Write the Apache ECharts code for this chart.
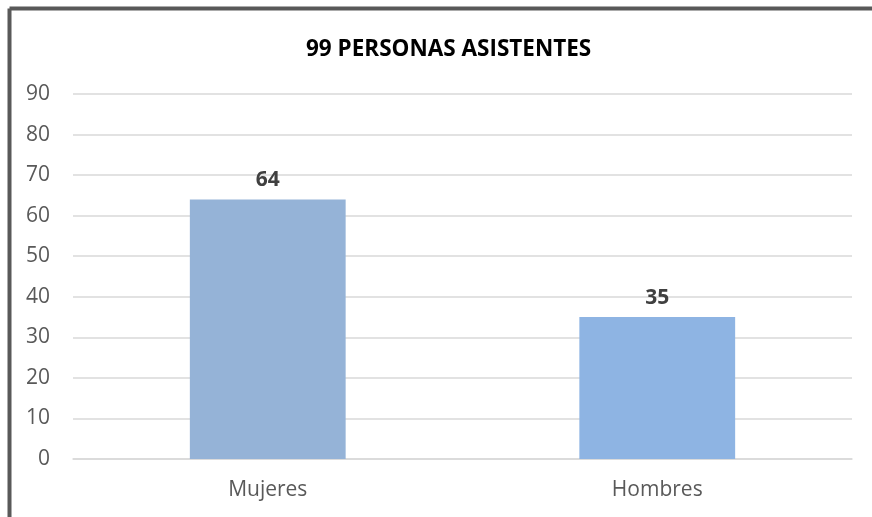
<!DOCTYPE html>
<html>
<head>
<meta charset="utf-8">
<script src="https://cdn.jsdelivr.net/npm/echarts@6/dist/echarts.min.js"></script>
<style>
  body { margin: 0; background: #fff; }
  #main { width: 872px; height: 517px; }
</style>
</head>
<body>
<div id="main"></div>
<script>
// datos del grafico
var categorias = ['Mujeres', 'Hombres'];
var valores = [64, 35];
var colores = ['#95b3d7', '#8eb4e3'];
var titulo = '99 PERSONAS ASISTENTES';

var chartDom = document.getElementById('main');
var myChart = echarts.init(chartDom);
var option;
option = {
    backgroundColor: '#fff',
    animation: false,
    title: {
        text: titulo,
        left: 301,
        top: 33,
        textStyle: {
            fontFamily: 'Open Sans',
            fontSize: 22.5,
            fontWeight: 'bold',
            color: '#000'
        }
    },
    grid: {
        left: 73,
        right: 20,
        top: 94,
        bottom: 58
    },
    xAxis: {
        type: 'category',
        data: categorias,
        axisLine: { show: true, lineStyle: { color: '#d9d9d9', width: 1.5 } },
        axisTick: { show: false },
        axisLabel: {
            margin: 21,
            fontFamily: 'Open Sans',
            fontSize: 21,
            color: '#595959'
        }
    },
    yAxis: {
        type: 'value',
        min: 0,
        max: 90,
        interval: 10,
        axisLine: { show: false },
        axisTick: { show: false },
        splitLine: { lineStyle: { color: '#d9d9d9', width: 1.5 } },
        axisLabel: {
            margin: 23,
            fontFamily: 'Open Sans',
            fontSize: 21,
            color: '#595959'
        }
    },
    series: [
        {
            type: 'bar',
            barWidth: '40%',
            data: valores.map(function (v, i) {
                return { value: v, itemStyle: { color: colores[i] } };
            }),
            label: {
                show: true,
                position: 'top',
                distance: 9,
                fontFamily: 'Open Sans',
                fontSize: 21,
                fontWeight: 'bold',
                color: '#404040'
            }
        }
    ],
    graphic: [
        { type: 'line', shape: { x1: 9.5, y1: 8.5, x2: 872, y2: 8.5 }, style: { stroke: '#595959', lineWidth: 4 } },
        { type: 'line', shape: { x1: 9.5, y1: 8.5, x2: 9.5, y2: 517 }, style: { stroke: '#595959', lineWidth: 4 } }
    ]
};
option && myChart.setOption(option);
</script>
</body>
</html>
